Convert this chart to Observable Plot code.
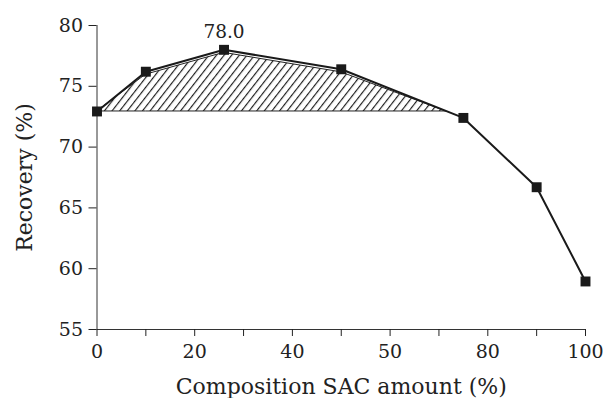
<!DOCTYPE html>
<html>
<head>
<meta charset="utf-8">
<script src="https://cdn.jsdelivr.net/npm/d3@7"></script>
<script src="https://cdn.jsdelivr.net/npm/@observablehq/plot@0.6"></script>
<style>
  html, body { margin: 0; padding: 0; background: #fff; }
  svg { display: block; }
</style>
</head>
<body>
<div id="chart"></div>
<script>
// Data
const sacAmount = [0, 10, 26, 50, 75, 90, 100];
const recovery = [72.93, 76.2, 78.0, 76.4, 72.4, 66.7, 58.95];

// Hatched region (below the curve, above the 0 % level)
const hatchX = [0, 10, 26, 50, 71.5];
const hatchTop = [72.93, 75.95, 77.75, 76.15, 72.93];
const hatchBase = 72.93;

// Axis ticks and labels (as printed in the reference)
const xTicks = [0, 10, 20, 30, 40, 50, 60, 70, 80, 90, 100];
const xLabelValues = [0, 20, 40, 60, 80, 100];
const xLabelTexts = ["0", "20", "40", "50", "80", "100"];
const yTicks = [55, 60, 65, 70, 75, 80];
const xTitle = "Composition SAC amount (%)";
const yTitle = "Recovery (%)";

const peakLabel = "78.0";

const points = sacAmount.map((x, i) => ({x, y: recovery[i]}));
const hatch = hatchX.map((x, i) => ({x, top: hatchTop[i], base: hatchBase}));
const labelMap = new Map(xLabelValues.map((v, i) => [v, xLabelTexts[i]]));
const peakIdx = recovery.indexOf(d3.max(recovery));

const font = "'DejaVu Serif', serif";

const chart = Plot.plot({
  width: 606,
  height: 398,
  marginLeft: 96.5,
  marginRight: 21,
  marginTop: 25,
  marginBottom: 69,
  style: {fontFamily: font, fontSize: "19px", color: "#222", background: "#fff"},
  x: {domain: [0, 100]},
  y: {domain: [55, 80]},
  marks: [
    Plot.areaY(hatch, {x: "x", y1: "base", y2: "top", fill: "url(#hatch)", stroke: "#222", strokeWidth: 1}),
    Plot.ruleX([0], {stroke: "#333", strokeWidth: 1}),
    Plot.ruleY([55], {stroke: "#333", strokeWidth: 1}),
    Plot.axisY({ticks: yTicks, tickSize: 8, tickPadding: 6, label: null, fontSize: 19, fontFamily: font}),
    Plot.axisX({ticks: xTicks, tickSize: 7, tickPadding: 8, tickFormat: d => labelMap.get(d) ?? "", label: null, fontSize: 19, fontFamily: font}),
    Plot.text([xTitle], {frameAnchor: "bottom", dy: 64, lineAnchor: "bottom", text: d => d, fontSize: 22, fontFamily: font, fill: "#222"}),
    Plot.text([yTitle], {frameAnchor: "left", textAnchor: "middle", dx: -72, rotate: -90, text: d => d, fontSize: 22, fontFamily: font, fill: "#222"}),
    Plot.line(points, {x: "x", y: "y", stroke: "#1a1a1a", strokeWidth: 2}),
    Plot.dot(points, {x: "x", y: "y", symbol: "square", r: 5.6, fill: "#1a1a1a", stroke: "none"}),
    Plot.text([points[peakIdx]], {x: "x", y: "y", text: () => peakLabel, dy: -18, fontSize: 18.5, fontFamily: font, fill: "#222"})
  ]
});

// Hatch pattern definition
const ns = "http://www.w3.org/2000/svg";
const defs = document.createElementNS(ns, "defs");
defs.innerHTML = `<pattern id="hatch" patternUnits="userSpaceOnUse" width="6" height="6" patternTransform="rotate(38)">
  <rect width="6" height="6" fill="#fff"/>
  <line x1="0.6" y1="0" x2="0.6" y2="6" stroke="#111" stroke-width="1.1"/>
</pattern>`;
chart.insertBefore(defs, chart.firstChild);

document.getElementById("chart").appendChild(chart);
</script>
</body>
</html>
